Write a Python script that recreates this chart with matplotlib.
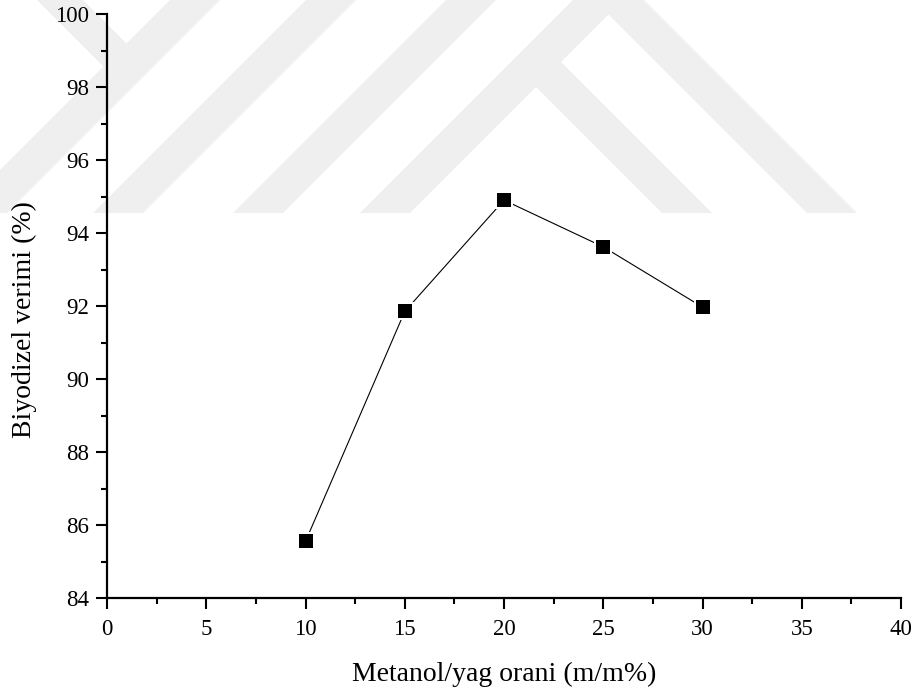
import matplotlib
matplotlib.use("Agg")
import matplotlib.pyplot as plt
from matplotlib.patches import Polygon
from matplotlib.ticker import MultipleLocator

plt.rcParams['font.family'] = ['Liberation Serif', 'DejaVu Serif']

# Methanol/oil ratio and biodiesel yield
oran = [10, 15, 20, 25, 30]
verim = [85.55, 91.85, 94.90, 93.62, 91.97]

x_label = "Metanol/yag orani (m/m%)"
y_label = "Biyodizel verimi (%)"

W, H = 919, 693
fig = plt.figure(figsize=(W / 100, H / 100), dpi=100)

# faint background emblem (pixel coordinates of the page)
bg = fig.add_axes([0, 0, 1, 1], zorder=0)
bg.set_xlim(0, W)
bg.set_ylim(H, 0)
bg.axis("off")
wm = "#efefef"
cut = 213
band = 50
for a in [170, 306, 446, 573]:
    bg.add_patch(Polygon([(a - cut, cut), (a + band - cut, cut), (a + band, 0), (a, 0)],
                         closed=True, color=wm, lw=0))
bg.add_patch(Polygon([(37, 0), (83, 0), (139, 56), (116, 79)], closed=True, color=wm, lw=0))
bg.add_patch(Polygon([(524.5, 75.5), (549.5, 50.5), (712, cut), (662, cut)],
                     closed=True, color=wm, lw=0))
bg.add_patch(Polygon([(597, 3), (622, -22), (857, cut), (807, cut)],
                     closed=True, color=wm, lw=0))

ax = fig.add_axes([107 / W, 1 - 598 / H, (901 - 107) / W, (598 - 14) / H], zorder=1)
ax.patch.set_alpha(0)

ax.plot(oran, verim, color="black", lw=0.8, zorder=2)
ax.plot(oran, verim, ls="none", marker="s", ms=12.5, mfc="white", mec="white", mew=0, zorder=3)
ax.plot(oran, verim, ls="none", marker="s", ms=9.6, mfc="black", mec="black", mew=0, zorder=4)

ax.set_xlim(0, 40)
ax.set_ylim(84, 100)
ax.xaxis.set_major_locator(MultipleLocator(5))
ax.xaxis.set_minor_locator(MultipleLocator(2.5))
ax.yaxis.set_major_locator(MultipleLocator(2))
ax.yaxis.set_minor_locator(MultipleLocator(1))

for side in ["top", "right"]:
    ax.spines[side].set_visible(False)
for side in ["left", "bottom"]:
    ax.spines[side].set_linewidth(1.6)

ax.tick_params(which="major", direction="out", length=8, width=1.5, labelsize=16.5, pad=5)
ax.tick_params(which="minor", direction="out", length=4, width=1.5)
ax.tick_params(axis="x", which="major", pad=7)

ax.set_xlabel(x_label, fontsize=20, labelpad=16)
ax.set_ylabel(y_label, fontsize=20, labelpad=13, y=0.476)

fig.savefig("out.png", dpi=100)
